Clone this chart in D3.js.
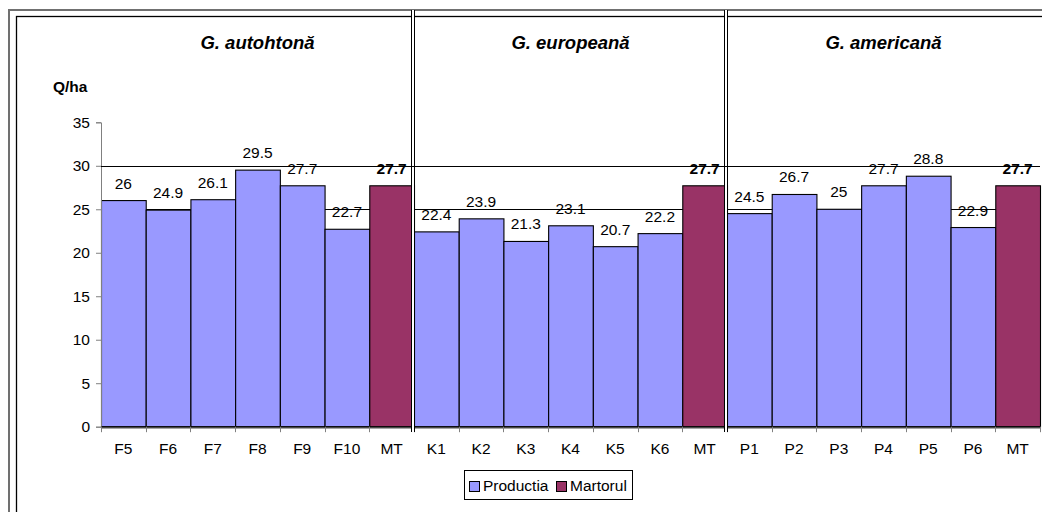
<!DOCTYPE html>
<html><head><meta charset="utf-8">
<script src="https://cdn.jsdelivr.net/npm/d3@7/dist/d3.min.js"></script>
<style>body{margin:0;background:#fff}svg{display:block;font-family:"Liberation Sans",Arial,sans-serif}</style>
</head><body><svg id="c" width="1042" height="512"></svg>
<script>
const categories = ["F5","F6","F7","F8","F9","F10","MT","K1","K2","K3","K4","K5","K6","MT","P1","P2","P3","P4","P5","P6","MT"];
const productia = [26,24.9,26.1,29.5,27.7,22.7,null,22.4,23.9,21.3,23.1,20.7,22.2,null,24.5,26.7,25,27.7,28.8,22.9,null];
const martorul = [null,null,null,null,null,null,27.7,null,null,null,null,null,null,27.7,null,null,null,null,null,null,27.7];
const groups = ["G. autohtonă","G. europeană","G. americană"];
const groupSize = 7;
const yTicks = [0,5,10,15,20,25,30,35];
const seriesNames = ["Productia","Martorul"];
const colors = ["#9999FF","#993366"];

const FS = 15.5;
const svg = d3.select("#c");
const x = d3.scaleBand().domain(d3.range(categories.length)).range([101,1040]).padding(0);
const y = d3.scaleLinear().domain([0,35]).range([426.7,122.3]);
const bw = x.bandwidth();

// frame
svg.append("rect").attr("x",9).attr("y",10).attr("width",1100).attr("height",600)
  .attr("fill","none").attr("stroke","#707070").attr("stroke-width",2);
svg.append("rect").attr("x",16.5).attr("y",16.5).attr("width",1100).attr("height",600)
  .attr("fill","none").attr("stroke","#000").attr("stroke-width",1.3);

// gridlines
svg.append("g").selectAll("line").data(yTicks.filter(t=>t>0&&t<35)).join("line")
  .attr("x1",101).attr("x2",1040).attr("y1",d=>Math.round(y(d))+0.5).attr("y2",d=>Math.round(y(d))+0.5)
  .attr("stroke","#000").attr("stroke-width",1);

// bars
const all = categories.map((c,i)=>({i, v: productia[i]!=null?productia[i]:martorul[i], s: productia[i]!=null?0:1}));
svg.append("g").selectAll("rect").data(all).join("rect")
  .attr("x",d=>x(d.i)+0.5).attr("width",bw).attr("y",d=>y(d.v)).attr("height",d=>y(0)-y(d.v))
  .attr("fill",d=>colors[d.s]).attr("stroke","#000").attr("stroke-width",1.1);

// axes
const yAxis = d3.axisLeft(y).tickValues(yTicks).tickSize(5).tickPadding(6);
const gy = svg.append("g").attr("transform","translate(101,0)").call(yAxis);
gy.select(".domain").attr("stroke","#808080");
gy.selectAll(".tick line").attr("stroke","#808080");
gy.selectAll("text").attr("font-size",FS).attr("fill","#000").attr("font-family","Liberation Sans, Arial, sans-serif");

svg.append("line").attr("x1",101).attr("x2",1040).attr("y1",y(0)+0.5).attr("y2",y(0)+0.5).attr("stroke","#000").attr("stroke-width",1.2);
svg.append("line").attr("x1",101).attr("x2",1040).attr("y1",y(0)+1.5).attr("y2",y(0)+1.5).attr("stroke","#808080").attr("stroke-width",1);
// x ticks at band boundaries
const bounds = d3.range(categories.length+1).map(i=>101+i*bw);
svg.append("g").selectAll("line").data(bounds).join("line")
  .attr("x1",d=>Math.round(d)+0.5).attr("x2",d=>Math.round(d)+0.5).attr("y1",y(0)).attr("y2",y(0)+5.5)
  .attr("stroke","#808080");
svg.append("g").selectAll("text").data(categories).join("text")
  .attr("x",(d,i)=>x(i)+bw/2).attr("y",454).attr("text-anchor","middle").attr("font-size",FS).text(d=>d);

// value labels
svg.append("g").selectAll("text").data(all).join("text")
  .attr("x",d=>x(d.i)+bw/2).attr("y",d=>y(d.v)-12).attr("text-anchor","middle").attr("font-size",FS)
  .attr("font-weight",d=>d.s===1?"bold":"normal").text(d=>d.v);

// separators
[1,2].forEach(g=>{
  const b = Math.round(101+g*groupSize*bw);
  svg.append("rect").attr("x",b-3).attr("y",10).attr("width",3).attr("height",422).attr("fill","#fff");
  svg.append("line").attr("x1",b-2.5).attr("x2",b-2.5).attr("y1",10).attr("y2",432).attr("stroke","#000");
  svg.append("line").attr("x1",b+0.5).attr("x2",b+0.5).attr("y1",10).attr("y2",432).attr("stroke","#000");
});
// gridline at 30 crosses separators
svg.append("line").attr("x1",101).attr("x2",1040).attr("y1",Math.round(y(30))+0.5).attr("y2",Math.round(y(30))+0.5).attr("stroke","#000");

// group titles
svg.append("g").selectAll("text").data(groups).join("text")
  .attr("x",(d,g)=>101+(g*groupSize+groupSize/2)*bw).attr("y",49).attr("text-anchor","middle")
  .attr("font-size",18.5).attr("font-weight","bold").attr("font-style","italic").text(d=>d);

svg.append("text").attr("x",53).attr("y",92).attr("font-size",FS).attr("font-weight","bold").text("Q/ha");

// legend
const lg = svg.append("g");
lg.append("rect").attr("x",464.5).attr("y",470.5).attr("width",168).attr("height",29).attr("fill","#fff").attr("stroke","#000");
const lx = [469.5, 556.5];
seriesNames.forEach((n,i)=>{
  lg.append("rect").attr("x",lx[i]).attr("y",481.5).attr("width",10).attr("height",10).attr("fill",colors[i]).attr("stroke","#000");
  lg.append("text").attr("x",lx[i]+13.5).attr("y",491).attr("font-size",FS).text(n);
});
</script></body></html>
